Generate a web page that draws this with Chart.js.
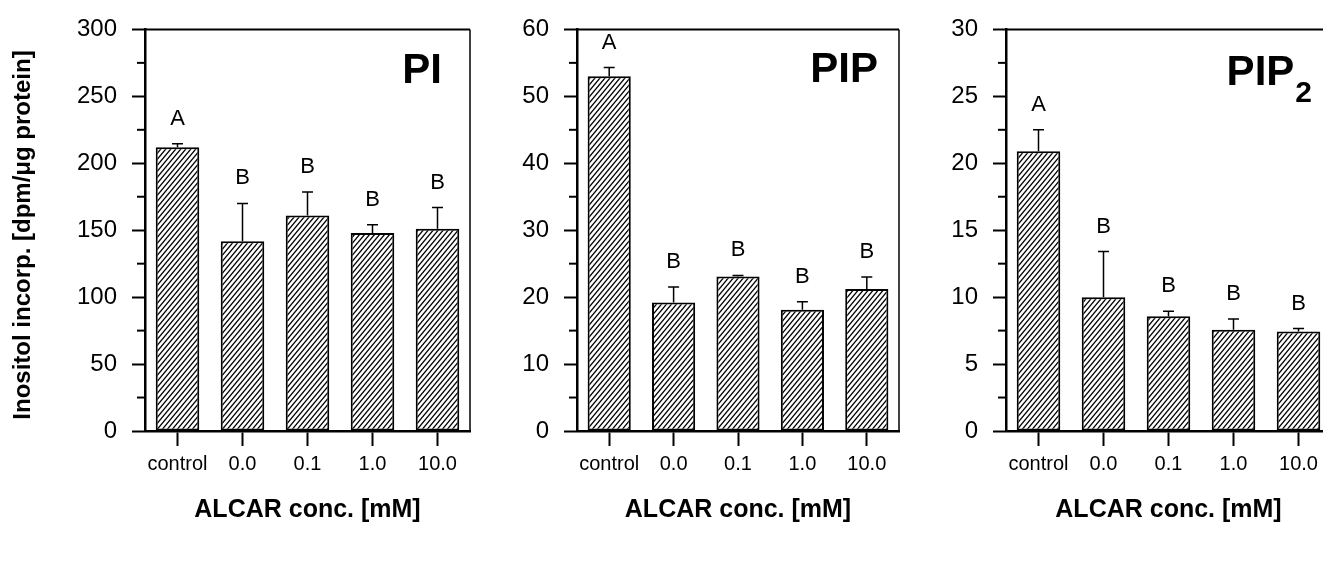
<!DOCTYPE html>
<html>
<head>
<meta charset="utf-8">
<script src="https://cdn.jsdelivr.net/npm/chart.js@4.4.0/dist/chart.umd.min.js"></script>
<style>
html, body { margin: 0; padding: 0; background: #fff; overflow: hidden; width: 1323px; height: 562px; }
canvas { position: absolute; top: 0; }
</style>
</head>
<body>
<canvas id="c1" width="485" height="562" style="left:0px"></canvas>
<canvas id="c2" width="420" height="562" style="left:490px"></canvas>
<canvas id="c3" width="420" height="562" style="left:920px"></canvas>
<script>
// data
var categories = ['control', '0.0', '0.1', '1.0', '10.0'];

var piValues = [212, 141.7, 161, 148, 151];
var piErrors = [2.5, 28.3, 17.6, 6, 16];
var piLetters = ['A', 'B', 'B', 'B', 'B'];

var pipValues = [53.0, 19.2, 23.1, 18.1, 21.2];
var pipErrors = [1.3, 2.3, 0.15, 1.2, 1.8];
var pipLetters = ['A', 'B', 'B', 'B', 'B'];

var pip2Values = [20.9, 10.0, 8.57, 7.56, 7.44];
var pip2Errors = [1.6, 3.4, 0.37, 0.8, 0.22];
var pip2Letters = ['A', 'B', 'B', 'B', 'B'];

var yTitleText = 'Inositol incorp. [dpm/\u03bcg protein]';
var xTitleText = 'ALCAR conc. [mM]';

var FONT = '"Liberation Sans", Arial, Helvetica, sans-serif';

function make_hatch() {
	var c = document.createElement('canvas');
	var w = 5, h = 6;
	c.width = w;
	c.height = h;
	var g = c.getContext('2d');
	g.fillStyle = '#fff';
	g.fillRect(0, 0, w, h);
	g.strokeStyle = '#000';
	g.lineWidth = 1.35;
	[0, w, 2 * w].forEach(function(cc) {
		g.beginPath();
		g.moveTo(cc + w / h, -1);
		g.lineTo(cc - (w / h) * (h + 1), h + 1);
		g.stroke();
	});
	return document.createElement('canvas').getContext('2d').createPattern(c, 'repeat');
}

var extras = {
	id: 'extras',
	afterDatasetsDraw: function(chart, args, opts) {
		var ctx = chart.ctx;
		var y = chart.scales.y;
		var meta = chart.getDatasetMeta(0);
		var vals = chart.data.datasets[0].data;
		ctx.save();
		ctx.strokeStyle = '#000';
		ctx.fillStyle = '#000';
		ctx.lineWidth = 1.5;
		ctx.font = '22px ' + FONT;
		ctx.textAlign = 'center';
		ctx.textBaseline = 'middle';
		meta.data.forEach(function(bar, i) {
			var top = y.getPixelForValue(vals[i]);
			var cap = y.getPixelForValue(vals[i] + opts.errors[i]);
			ctx.beginPath();
			ctx.moveTo(bar.x, top);
			ctx.lineTo(bar.x, cap);
			ctx.moveTo(bar.x - 5.5, cap);
			ctx.lineTo(bar.x + 5.5, cap);
			ctx.stroke();
			ctx.fillText(opts.letters[i], bar.x, cap - 25);
		});
		ctx.restore();
	},
	afterDraw: function(chart, args, opts) {
		var ctx = chart.ctx;
		var a = chart.chartArea;
		var y = chart.scales.y;
		ctx.save();
		ctx.strokeStyle = '#000';
		// frame top and right
		ctx.lineWidth = 2;
		ctx.beginPath();
		ctx.moveTo(a.left, a.top);
		ctx.lineTo(a.right, a.top);
		ctx.stroke();
		ctx.lineWidth = 1.5;
		ctx.beginPath();
		ctx.moveTo(a.right, a.top);
		ctx.lineTo(a.right, a.bottom);
		ctx.stroke();
		// minor ticks
		ctx.lineWidth = 2;
		y.ticks.forEach(function(t, i) {
			if (i == y.ticks.length - 1) return;
			var py = y.getPixelForValue(t.value + opts.step / 2);
			ctx.beginPath();
			ctx.moveTo(a.left - 8, py);
			ctx.lineTo(a.left, py);
			ctx.stroke();
		});
		ctx.fillStyle = '#000';
		// y title (first panel only)
		if (opts.yTitle) {
			ctx.save();
			ctx.translate(23, 235);
			ctx.rotate(-Math.PI / 2);
			ctx.font = 'bold 24px ' + FONT;
			ctx.textAlign = 'center';
			ctx.textBaseline = 'middle';
			ctx.fillText(opts.yTitle, 0, 0);
			ctx.restore();
		}
		// panel label
		ctx.textBaseline = 'alphabetic';
		var right = a.right - opts.labelRight;
		if (opts.sub) {
			ctx.font = 'bold 30px ' + FONT;
			var sw = ctx.measureText(opts.sub).width;
			ctx.textAlign = 'right';
			ctx.fillText(opts.sub, right, a.top + opts.subBase);
			right -= sw + 1;
		}
		ctx.font = 'bold 42px ' + FONT;
		ctx.textAlign = 'right';
		ctx.fillText(opts.label, right, a.top + opts.labelBase);
		ctx.restore();
	}
};

function make_chart(id, values, errors, letters, cfg) {
	return new Chart(document.getElementById(id), {
		type: 'bar',
		data: {
			labels: categories,
			datasets: [{
				data: values,
				backgroundColor: make_hatch(),
				borderColor: '#000',
				borderWidth: 2,
				borderSkipped: false,
				barPercentage: 0.67,
				categoryPercentage: 1.0
			}]
		},
		plugins: [extras],
		options: {
			responsive: false,
			animation: false,
			layout: { padding: { top: 24, right: cfg.padRight, left: 0, bottom: 0 } },
			plugins: {
				legend: { display: false },
				tooltip: { enabled: false },
				extras: {
					errors: errors,
					letters: letters,
					step: cfg.step,
					yTitle: cfg.yTitle,
					label: cfg.label,
					sub: cfg.sub,
					labelRight: cfg.labelRight,
					labelBase: cfg.labelBase,
					subBase: cfg.subBase
				}
			},
			scales: {
				x: {
					offset: true,
					grid: { offset: false, drawOnChartArea: false, tickLength: 15, tickWidth: 2, tickColor: '#000' },
					border: { color: '#000', width: 2.5 },
					ticks: { color: '#000', font: { family: FONT, size: 20 }, padding: 6, maxRotation: 0, autoSkip: false },
					title: {
						display: true,
						text: xTitleText,
						color: '#000',
						font: { family: FONT, size: 25, weight: 'bold' },
						padding: { top: 0, bottom: 37 }
					},
					afterFit: function(s) { s.height = 131; }
				},
				y: {
					min: 0,
					max: cfg.max,
					grid: { drawOnChartArea: false, tickLength: 13, tickWidth: 2, tickColor: '#000' },
					border: { color: '#000', width: 2.5 },
					ticks: { stepSize: cfg.step, color: '#000', font: { family: FONT, size: 24 }, padding: 15 },
					afterFit: function(s) { s.width = cfg.axisWidth; }
				}
			}
		}
	});
}

make_chart('c1', piValues, piErrors, piLetters, {
	max: 300, step: 50, axisWidth: 145, padRight: 15,
	yTitle: yTitleText,
	label: 'PI', labelRight: 28, labelBase: 54
});
make_chart('c2', pipValues, pipErrors, pipLetters, {
	max: 60, step: 10, axisWidth: 87, padRight: 11,
	label: 'PIP', labelRight: 21, labelBase: 53
});
make_chart('c3', pip2Values, pip2Errors, pip2Letters, {
	max: 30, step: 5, axisWidth: 86, padRight: 9,
	label: 'PIP', sub: '2', labelRight: 19, labelBase: 56, subBase: 73
});
</script>
</body>
</html>
